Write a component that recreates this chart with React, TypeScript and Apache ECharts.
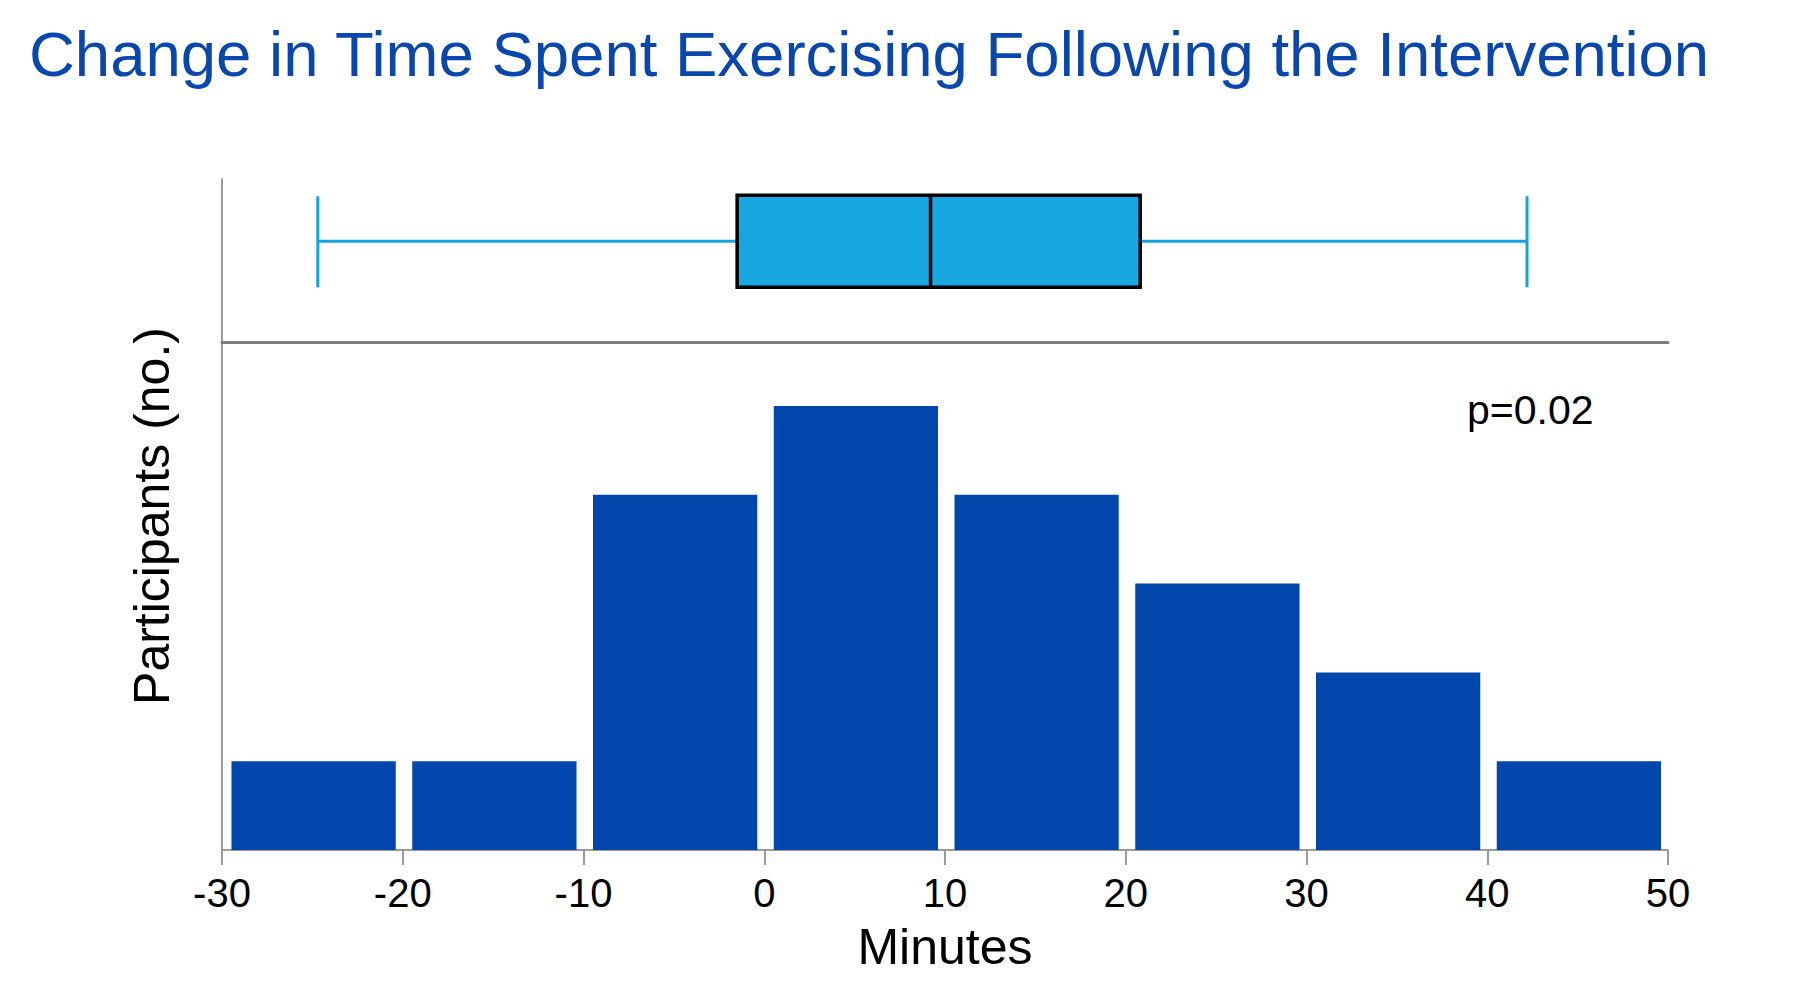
import React, { useEffect, useRef } from "react";
import * as echarts from "echarts";

const TITLE = "Change in Time Spent Exercising Following the Intervention";
const X_NAME = "Minutes";
const Y_NAME = "Participants (no.)";
const P_LABEL = "p=0.02";

// Histogram bins (minutes) and participant counts
const binStarts = [-30, -20, -10, 0, 10, 20, 30, 40];
const binWidth = 10;
const counts = [1, 1, 4, 5, 4, 3, 2, 1];

// x-axis range / ticks
const xMin = -30;
const xMax = 50;
const xInterval = 10;

// Box plot: min, q1, median, q3, max
const boxStats = [-24.7, -1.5, 9.2, 20.8, 42.2];

const BAR_COLOR = "#0046AB";
const BOX_FILL = "#17A8E2";
const WHISKER_COLOR = "#12A3E0";
const TITLE_COLOR = "#0A47AD";
const FONT = "Liberation Sans, Arial, Helvetica, sans-serif";

export default function App() {
  const ref = useRef<HTMLDivElement>(null);

  useEffect(() => {
    document.body.style.margin = "0";
    const chart = echarts.init(ref.current!, undefined, { renderer: "svg" });

    const histData = binStarts.map((s, i) => [s, s + binWidth, counts[i]]);

    const option: any = {
      animation: false,
      backgroundColor: "#ffffff",
      title: {
        text: TITLE,
        left: 24,
        top: 17,
        textStyle: {
          color: TITLE_COLOR,
          fontSize: 63.5,
          fontWeight: "normal",
          fontFamily: FONT,
        },
      },
      grid: [
        { left: 222, top: 342, width: 1446, height: 508 },
        { left: 222, top: 179, width: 1446, height: 163 },
      ],
      xAxis: [
        {
          gridIndex: 0,
          type: "value",
          min: xMin,
          max: xMax,
          interval: xInterval,
          splitLine: { show: false },
          axisLine: { show: true, onZero: false, lineStyle: { color: "#9a9a9a", width: 2 } },
          axisTick: { show: true, length: 15, lineStyle: { color: "#9a9a9a", width: 2 } },
          axisLabel: { fontSize: 40, color: "#000", fontFamily: FONT, margin: 23 },
          name: X_NAME,
          nameLocation: "middle",
          nameGap: 72,
          nameTextStyle: { fontSize: 50, color: "#000", fontFamily: FONT },
        },
        {
          gridIndex: 1,
          type: "value",
          min: xMin,
          max: xMax,
          splitLine: { show: false },
          axisLine: { show: true, onZero: false, lineStyle: { color: "#7d7d7d", width: 3 } },
          axisTick: { show: false },
          axisLabel: { show: false },
        },
      ],
      yAxis: [
        {
          gridIndex: 0,
          type: "value",
          min: 0,
          max: 5.72,
          splitLine: { show: false },
          axisLine: { show: true, onZero: false, lineStyle: { color: "#9a9a9a", width: 2 } },
          axisTick: { show: false },
          axisLabel: { show: false },
        },
        {
          gridIndex: 1,
          type: "value",
          min: 0,
          max: 1,
          splitLine: { show: false },
          axisLine: { show: true, onZero: false, lineStyle: { color: "#9a9a9a", width: 2 } },
          axisTick: { show: false },
          axisLabel: { show: false },
        },
      ],
      graphic: [
        {
          type: "text",
          x: 151.5,
          y: 516,
          rotation: Math.PI / 2,
          style: {
            text: Y_NAME,
            fontSize: 50,
            fontFamily: FONT,
            fill: "#000",
            align: "center",
            verticalAlign: "middle",
          },
        },
        {
          type: "text",
          x: 1467,
          y: 410,
          style: {
            text: P_LABEL,
            fontSize: 41,
            fontFamily: FONT,
            fill: "#000",
            align: "left",
            verticalAlign: "middle",
          },
        },
      ],
      series: [
        {
          type: "custom",
          xAxisIndex: 0,
          yAxisIndex: 0,
          data: histData,
          encode: { x: [0, 1], y: 2 },
          renderItem: (params: any, api: any) => {
            const x0 = api.value(0);
            const x1 = api.value(1);
            const y = api.value(2);
            const p0 = api.coord([x0, 0]);
            const p1 = api.coord([x1, y]);
            const gapL = 9.5;
            const gapR = 7;
            return {
              type: "rect",
              shape: {
                x: p0[0] + gapL,
                y: p1[1],
                width: p1[0] - p0[0] - gapL - gapR,
                height: p0[1] - p1[1],
              },
              style: { fill: BAR_COLOR },
            };
          },
        },
        {
          type: "custom",
          xAxisIndex: 1,
          yAxisIndex: 1,
          data: [boxStats],
          encode: { x: [0, 1, 2, 3, 4] },
          renderItem: (params: any, api: any) => {
            const yc = 0.618;
            const half = 46;
            const pMin = api.coord([api.value(0), yc]);
            const pQ1 = api.coord([api.value(1), yc]);
            const pMed = api.coord([api.value(2), yc]);
            const pQ3 = api.coord([api.value(3), yc]);
            const pMax = api.coord([api.value(4), yc]);
            const cy = pMin[1];
            const wStyle = { stroke: WHISKER_COLOR, lineWidth: 3 };
            return {
              type: "group",
              children: [
                { type: "line", shape: { x1: pMin[0], y1: cy, x2: pMax[0], y2: cy }, style: wStyle },
                { type: "line", shape: { x1: pMin[0], y1: cy - half + 1, x2: pMin[0], y2: cy + half }, style: wStyle },
                { type: "line", shape: { x1: pMax[0], y1: cy - half + 1, x2: pMax[0], y2: cy + half }, style: wStyle },
                {
                  type: "rect",
                  shape: { x: pQ1[0], y: cy - half, width: pQ3[0] - pQ1[0], height: 2 * half },
                  style: { fill: BOX_FILL, stroke: "#000", lineWidth: 3.5 },
                },
                {
                  type: "line",
                  shape: { x1: pMed[0], y1: cy - half, x2: pMed[0], y2: cy + half },
                  style: { stroke: "#000", lineWidth: 3.5 },
                },
              ],
            };
          },
        },
      ],
    };

    chart.setOption(option);
    return () => chart.dispose();
  }, []);

  return <div ref={ref} style={{ width: 1800, height: 989 }} />;
}
